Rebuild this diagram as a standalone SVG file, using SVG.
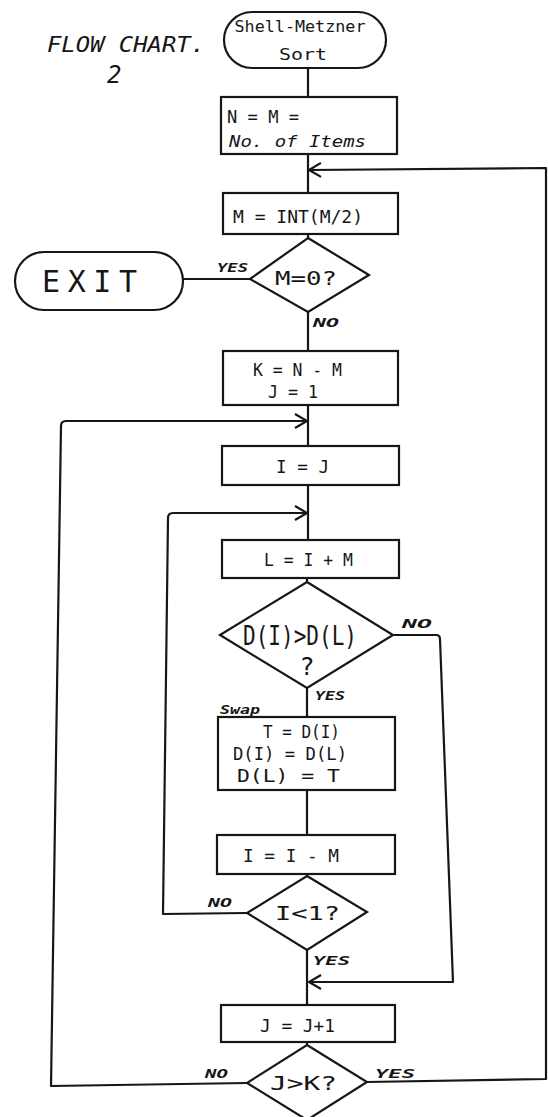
<svg xmlns="http://www.w3.org/2000/svg" width="548" height="1117" viewBox="0 0 548 1117">
<style>
.shape{fill:#fff;stroke:#161616;stroke-width:2.2}
.conn{fill:none;stroke:#161616;stroke-width:2.2;stroke-linejoin:round}
text{font-family:"DejaVu Sans Mono","Liberation Mono",monospace;fill:#161616}
.lab{font-size:13px;font-style:italic;font-weight:bold}
</style>
<defs>
<marker id="arr" markerUnits="userSpaceOnUse" markerWidth="16" markerHeight="18" refX="13" refY="8" orient="auto">
<path d="M1,1 L13,8 L1,15" fill="none" stroke="#161616" stroke-width="2.2"/>
</marker>
</defs>
<rect width="548" height="1117" fill="#fff"/>
<text x="47" y="52" font-size="21" textLength="158" lengthAdjust="spacingAndGlyphs" font-style="italic">FLOW CHART.</text>
<text x="107" y="83" font-size="24" font-style="italic">2</text>
<g id="connectors">
<path class="conn" d="M308,68 V97"/>
<path class="conn" d="M308,154 V193"/>
<path class="conn" d="M308,234 V238"/>
<path class="conn" d="M250,279 H183"/>
<path class="conn" d="M308,312 V351"/>
<path class="conn" d="M308,405 V446"/>
<path class="conn" d="M308,485 V540"/>
<path class="conn" d="M307,578 V582"/>
<path class="conn" d="M307,688 V717"/>
<path class="conn" d="M307,790 V835"/>
<path class="conn" d="M307,874 V876"/>
<path class="conn" d="M307,950 V1005"/>
<path class="conn" d="M307,1042 V1045"/>
<path class="conn" d="M393,635 H436 Q440,635 440,639 L453,982 H309" marker-end="url(#arr)"/>
<path class="conn" d="M247,913 L163,914 L168,518 Q168,513 173,513 H307" marker-end="url(#arr)"/>
<path class="conn" d="M247,1083 L51,1086 L61,426 Q61,421 66,421 H307" marker-end="url(#arr)"/>
<path class="conn" d="M367,1082 L546,1079 L546,168 L309,170" marker-end="url(#arr)"/>
</g>
<g id="start">
<rect class="shape" x="224" y="12" width="162" height="56" rx="28"/>
<text x="300" y="32" font-size="16" text-anchor="middle" textLength="131" lengthAdjust="spacingAndGlyphs">Shell-Metzner</text>
<text x="303" y="60" font-size="16" text-anchor="middle" textLength="48" lengthAdjust="spacingAndGlyphs">Sort</text>
</g>
<g id="init">
<rect class="shape" x="221" y="97" width="176" height="57"/>
<text x="227" y="123" font-size="18" textLength="72" lengthAdjust="spacingAndGlyphs">N = M =</text>
<text x="229" y="147" font-size="15" font-style="italic" textLength="137" lengthAdjust="spacingAndGlyphs">No. of Items</text>
</g>
<g id="halve">
<rect class="shape" x="223" y="193" width="175" height="41"/>
<text x="233" y="223" font-size="18" textLength="130" lengthAdjust="spacingAndGlyphs">M = INT(M/2)</text>
</g>
<g id="testM">
<polygon class="shape" points="308,238 369,275 308,312 250,279"/>
<text x="275" y="285" font-size="20" textLength="62" lengthAdjust="spacingAndGlyphs">M=0?</text>
<text class="lab" x="217" y="272" textLength="31" lengthAdjust="spacingAndGlyphs">YES</text>
<text class="lab" x="313" y="327" textLength="26" lengthAdjust="spacingAndGlyphs">NO</text>
</g>
<g id="exit">
<rect class="shape" x="15" y="252" width="168" height="58" rx="29"/>
<text x="42" y="292" font-size="30" textLength="95" lengthAdjust="spacing">EXIT</text>
</g>
<g id="setK">
<rect class="shape" x="223" y="351" width="175" height="54"/>
<text x="253" y="376" font-size="17" textLength="89" lengthAdjust="spacingAndGlyphs">K = N - M</text>
<text x="268" y="398" font-size="17" textLength="50" lengthAdjust="spacingAndGlyphs">J = 1</text>
</g>
<g id="setI">
<rect class="shape" x="222" y="446" width="177" height="39"/>
<text x="276" y="473" font-size="18" textLength="53" lengthAdjust="spacingAndGlyphs">I = J</text>
</g>
<g id="setL">
<rect class="shape" x="222" y="540" width="177" height="38"/>
<text x="264" y="566" font-size="18" textLength="89" lengthAdjust="spacingAndGlyphs">L = I + M</text>
</g>
<g id="compare">
<polygon class="shape" points="307,582 393,635 307,688 220,635"/>
<text x="243" y="645" font-size="27" textLength="114" lengthAdjust="spacingAndGlyphs">D(I)&gt;D(L)</text>
<text x="307" y="675" font-size="25" text-anchor="middle">?</text>
<text class="lab" x="402" y="628" font-size="15" textLength="30" lengthAdjust="spacingAndGlyphs">NO</text>
<text class="lab" x="315" y="700" textLength="30" lengthAdjust="spacingAndGlyphs">YES</text>
</g>
<g id="swap">
<text class="lab" x="220" y="714" font-size="11" textLength="40" lengthAdjust="spacingAndGlyphs">Swap</text>
<rect class="shape" x="218" y="717" width="177" height="73"/>
<text x="263" y="738" font-size="17" textLength="77" lengthAdjust="spacingAndGlyphs">T = D(I)</text>
<text x="233" y="760" font-size="17" textLength="114" lengthAdjust="spacingAndGlyphs">D(I) = D(L)</text>
<text x="237" y="782" font-size="17" textLength="103" lengthAdjust="spacingAndGlyphs">D(L) = T</text>
</g>
<g id="decI">
<rect class="shape" x="217" y="835" width="178" height="39"/>
<text x="243" y="862" font-size="18" textLength="96" lengthAdjust="spacingAndGlyphs">I = I - M</text>
</g>
<g id="testI">
<polygon class="shape" points="307,876 367,912 307,950 247,913"/>
<text x="275" y="920" font-size="20" textLength="65" lengthAdjust="spacingAndGlyphs">I&lt;1?</text>
<text class="lab" x="208" y="907" textLength="24" lengthAdjust="spacingAndGlyphs">NO</text>
<text class="lab" x="313" y="965" font-size="16" textLength="37" lengthAdjust="spacingAndGlyphs">YES</text>
</g>
<g id="incJ">
<rect class="shape" x="221" y="1005" width="174" height="37"/>
<text x="260" y="1032" font-size="18" textLength="75" lengthAdjust="spacingAndGlyphs">J = J+1</text>
</g>
<g id="testJ">
<polygon class="shape" points="307,1045 367,1082 307,1120 247,1083"/>
<text x="270" y="1090" font-size="20" textLength="67" lengthAdjust="spacingAndGlyphs">J&gt;K?</text>
<text class="lab" x="205" y="1078" textLength="23" lengthAdjust="spacingAndGlyphs">NO</text>
<text class="lab" x="375" y="1078" font-size="16" textLength="40" lengthAdjust="spacingAndGlyphs">YES</text>
</g>
</svg>
